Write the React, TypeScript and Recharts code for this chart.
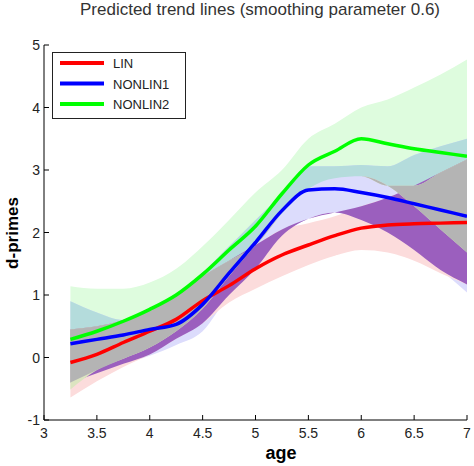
import React from 'react';
import { ComposedChart, Area, Line, XAxis, YAxis, Legend, Label } from 'recharts';

const ages = [3.25, 3.5, 3.75, 4, 4.25, 4.5, 4.75, 5, 5.25, 5.5, 5.75, 6, 6.25, 6.5, 6.75, 7];

// predicted d-primes per model
const lin = [-0.08, 0.05, 0.24, 0.42, 0.61, 0.91, 1.15, 1.42, 1.64, 1.8, 1.95, 2.07, 2.12, 2.14, 2.15, 2.16];
const nonlin1 = [0.22, 0.29, 0.36, 0.45, 0.53, 0.85, 1.35, 1.84, 2.35, 2.68, 2.7, 2.64, 2.56, 2.46, 2.36, 2.26];
const nonlin2 = [0.29, 0.42, 0.58, 0.77, 1.0, 1.33, 1.72, 2.1, 2.62, 3.08, 3.3, 3.5, 3.42, 3.34, 3.28, 3.22];

// confidence bands (lower / upper)
const linLo = [-0.64, -0.38, -0.15, 0.05, 0.3, 0.55, 0.88, 1.1, 1.3, 1.48, 1.63, 1.72, 1.68, 1.55, 1.35, 1.17];
const linHi = [0.45, 0.5, 0.6, 0.78, 1.0, 1.3, 1.55, 1.8, 2.05, 2.15, 2.26, 2.42, 2.56, 2.75, 2.96, 3.17];
const nl1Lo = [-0.4, -0.25, -0.1, 0.03, 0.2, 0.42, 1.0, 1.42, 1.95, 2.22, 2.32, 2.2, 2.0, 1.72, 1.4, 1.04];
const nl1Hi = [0.9, 0.72, 0.6, 0.78, 1.02, 1.36, 1.78, 2.2, 2.62, 3.06, 3.06, 3.08, 3.06, 3.24, 3.38, 3.5];
const nl2Lo = [-0.51, -0.2, -0.02, 0.16, 0.42, 0.78, 1.3, 1.8, 2.3, 2.7, 2.87, 2.9, 2.75, 2.42, 2.05, 1.68];
const nl2Hi = [1.14, 1.1, 1.1, 1.2, 1.42, 1.78, 2.2, 2.64, 3.0, 3.5, 3.74, 4.0, 4.13, 4.32, 4.53, 4.77];

const xTicks = [3, 3.5, 4, 4.5, 5, 5.5, 6, 6.5, 7];
const yTicks = [-1, 0, 1, 2, 3, 4, 5];
const legendNames = ['LIN', 'NONLIN1', 'NONLIN2'];
const lineColors = ['#ff0000', '#0000ff', '#00ff00'];

const FONT = '"Liberation Sans", Arial, sans-serif';

// where bands overlap, take the common range; collapse to zero height when they don't
const overlap = (bands: number[][]) => {
  const lo = Math.max(...bands.map((b) => b[0]));
  const hi = Math.min(...bands.map((b) => b[1]));
  return [lo, Math.max(lo, hi)];
};

const data = ages.map((age, i) => {
  const r = [linLo[i], linHi[i]];
  const b = [nl1Lo[i], nl1Hi[i]];
  const g = [nl2Lo[i], nl2Hi[i]];
  return {
    age,
    lin: lin[i],
    nl1: nonlin1[i],
    nl2: nonlin2[i],
    r,
    b,
    g,
    gb: overlap([g, b]),
    rb: overlap([r, b]),
    gr: overlap([g, r]),
    grb: overlap([g, r, b]),
  };
});

const bandLayers = [
  { key: 'g', fill: '#defcde' },
  { key: 'b', fill: '#dcdcfc' },
  { key: 'r', fill: '#fcdcdc' },
  { key: 'gb', fill: '#b4dcdc' },
  { key: 'rb', fill: '#9b5fbe' },
  { key: 'gr', fill: '#dce4c0' },
  { key: 'grb', fill: '#b4b4b4' },
];

const YTick = ({ x, y, payload }: any) => (
  <g>
    <line x1={x} x2={x + 5} y1={y} y2={y} stroke="#000" />
    <text x={x - 4} y={y} dy={5} textAnchor="end" fontSize={14} fontFamily={FONT} fill="#222">
      {payload.value}
    </text>
  </g>
);

const XTick = ({ x, y, payload }: any) => (
  <g>
    <line x1={x} x2={x} y1={y} y2={y - 5} stroke="#000" />
    <text x={x} y={y + 18} textAnchor="middle" fontSize={14} fontFamily={FONT} fill="#222">
      {payload.value}
    </text>
  </g>
);

const LegendBox = () => (
  <svg width={134} height={67} style={{ display: 'block' }}>
    <rect x={0.5} y={0.5} width={133} height={66} fill="#fff" stroke="#222" />
    {legendNames.map((name, i) => (
      <g key={name}>
        <line x1={8} x2={52} y1={11 + i * 20.5} y2={11 + i * 20.5} stroke={lineColors[i]} strokeWidth={4} />
        <text x={61} y={11 + i * 20.5} dy={5} fontSize={13} fontFamily={FONT} fill="#222">
          {name}
        </text>
      </g>
    ))}
  </svg>
);

export default function App() {
  return (
    <div style={{ position: 'absolute', left: 0, top: 0, width: 474, height: 466, background: '#fff' }}>
      <div
        style={{
          position: 'absolute',
          left: 0,
          width: 520,
          top: 0,
          textAlign: 'center',
          fontFamily: FONT,
          fontSize: 17,
          color: '#333',
          lineHeight: '20px',
          whiteSpace: 'nowrap',
        }}
      >
        Predicted trend lines (smoothing parameter 0.6)
      </div>
      <ComposedChart
        width={474}
        height={466}
        data={data}
        margin={{ top: 45, right: 7, bottom: 0, left: 0 }}
      >
        <XAxis
          dataKey="age"
          type="number"
          domain={[3, 7]}
          ticks={xTicks}
          height={46}
          tickSize={0}
          tickMargin={0}
          tickLine={false}
          axisLine={{ stroke: '#000' }}
          tick={<XTick />}
          allowDataOverflow
        >
          <Label
            content={() => (
              <text x={281} y={459} textAnchor="middle" fontSize={18} fontWeight="bold" fontFamily={FONT} fill="#000">
                age
              </text>
            )}
          />
        </XAxis>
        <YAxis
          type="number"
          domain={[-1, 5]}
          ticks={yTicks}
          width={44}
          tickSize={0}
          tickMargin={0}
          tickLine={false}
          axisLine={{ stroke: '#000' }}
          tick={<YTick />}
          allowDataOverflow
        >
          <Label
            content={() => (
              <text
                transform="translate(18 233) rotate(-90)"
                textAnchor="middle"
                fontSize={17}
                fontWeight="bold"
                fontFamily={FONT}
                fill="#000"
              >
                d-primes
              </text>
            )}
          />
        </YAxis>
        {bandLayers.map((layer) => (
          <Area
            key={layer.key}
            dataKey={layer.key}
            type="monotone"
            stroke="none"
            fill={layer.fill}
            fillOpacity={1}
            legendType="none"
            activeDot={false}
            dot={false}
            isAnimationActive={false}
          />
        ))}
        <Line dataKey="lin" name="LIN" type="monotone" stroke="#ff0000" strokeWidth={3.5} dot={false} isAnimationActive={false} />
        <Line dataKey="nl2" name="NONLIN2" type="monotone" stroke="#00ff00" strokeWidth={3.5} dot={false} isAnimationActive={false} />
        <Line dataKey="nl1" name="NONLIN1" type="monotone" stroke="#0000ff" strokeWidth={3.5} dot={false} isAnimationActive={false} />
        <Legend
          layout="vertical"
          align="center"
          verticalAlign="middle"
          content={() => <LegendBox />}
          wrapperStyle={{ left: 52, top: 52, width: 134, height: 67 }}
        />
      </ComposedChart>
    </div>
  );
}
